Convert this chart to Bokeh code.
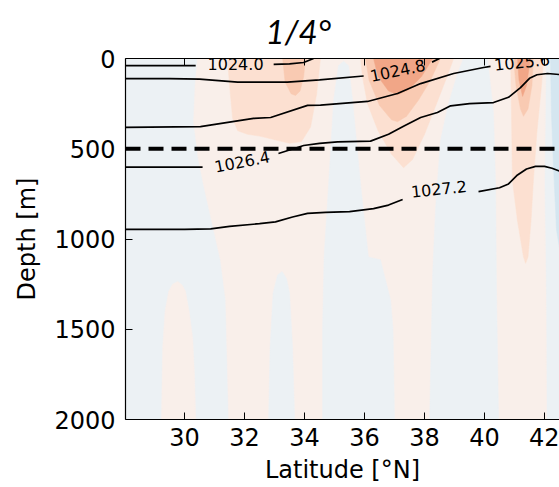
from bokeh.plotting import figure
from bokeh.models import Range1d, Span, FixedTicker, LinearAxis, ColumnDataSource
from bokeh.embed import file_html
from bokeh.resources import INLINE
from bokeh.core.properties import value

# ---------------- data ----------------
lat_ticks = [30, 32, 34, 36, 38, 40, 42]
depth_ticks = [0, 500, 1000, 1500, 2000]
ref_depth = 500  # dashed reference depth

# filled field: regions per colour level (latitude [deg N], depth [m])
red1_lat = [
    [30.43, 30.35, 30.3, 30.45, 30.63, 30.97, 31.2, 31.37, 31.47, 42.07, 42.05, 42.0, 42.05],
    [29.23, 29.27, 29.35, 29.47, 29.6, 29.77, 29.92, 30.03, 30.15, 30.27, 30.33, 30.37],
]
red1_depth = [
    [0, 150, 350, 550, 700, 950, 1120, 1340, 2000, 2000, 1300, 700, 0],
    [2000, 1600, 1400, 1290, 1250, 1235, 1255, 1290, 1400, 1550, 1750, 2000],
]
blue1_lat = [
    [32.8, 32.85, 32.95, 33.1, 33.25, 33.4, 33.5, 33.6, 33.67],
    [35.3, 35.13, 34.97, 34.8, 34.65, 34.6, 34.6, 37.0, 36.95, 36.87, 36.53, 36.13, 35.87, 35.6, 35.47],
    [39.3, 39.1, 38.8, 38.53, 38.37, 38.27, 38.17, 40.47, 40.4, 40.37, 40.3, 40.1],
]
blue1_depth = [
    [2000, 1600, 1300, 1200, 1180, 1220, 1300, 1600, 2000],
    [15, 40, 230, 700, 1100, 1500, 2000, 2000, 1500, 1340, 1115, 1100, 700, 230, 40],
    [0, 83, 250, 455, 825, 1190, 2000, 2000, 1285, 700, 300, 0],
]
red2_lat = [
    [31.43, 31.5, 31.6, 31.77, 32.1, 32.5, 33.0, 33.5, 33.9, 34.2, 34.4, 34.53],
    [35.87, 35.93, 36.1, 36.45, 36.9, 37.3, 37.6, 38.0, 38.4, 38.75, 38.97],
    [40.87, 40.9, 40.93, 41.1, 41.3, 41.37, 41.45, 41.55, 41.63, 41.75, 41.9, 41.97],
]
red2_depth = [
    [0, 150, 330, 400, 420, 430, 450, 470, 460, 380, 200, 0],
    [0, 100, 250, 400, 530, 605, 560, 420, 250, 100, 0],
    [0, 300, 675, 900, 1100, 1135, 1100, 900, 675, 400, 150, 0],
]
red3_lat = [
    [33.27, 33.35, 33.55, 33.7, 33.85, 33.97, 34.03],
    [36.03, 36.15, 36.5, 36.9, 37.1, 37.4, 37.8, 38.2, 38.53],
    [40.97, 41.05, 41.2, 41.3, 41.45, 41.58, 41.63],
]
red3_depth = [
    [0, 130, 195, 205, 180, 100, 0],
    [0, 120, 260, 340, 350, 320, 230, 120, 0],
    [0, 150, 280, 320, 280, 150, 0],
]
red4_lat = [
    [36.3, 36.45, 36.8, 37.1, 37.45, 37.9, 38.27],
    [41.1, 41.15, 41.27, 41.4, 41.53],
]
red4_depth = [
    [0, 100, 180, 200, 175, 100, 0],
    [0, 120, 210, 150, 0],
]
blue2_lat = [[42.2, 42.23, 42.3, 42.4, 42.5, 42.5]]
blue2_depth = [[0, 300, 600, 950, 1050, 0]]

# isopycnal (density contour) lines, split where the inline labels sit
c1024_0_lat = [[28.0, 30.37], [32.97, 33.5, 33.97, 34.3]]
c1024_0_depth = [[39, 39], [33, 30, 22, 0]]
c1024_8_lat = [[28.0, 29.5, 30.5, 31.77, 33.43, 34.5, 35.97], [38.25, 38.5]]
c1024_8_depth = [[111, 111, 114, 131, 131, 118, 97], [20, 0]]
c1025_6_lat = [[28.0, 30.53, 32.3, 32.87, 34.1, 34.53, 36.1, 37.1, 37.87, 38.97, 39.97, 40.2]]
c1025_6_depth = [[382, 377, 332, 327, 260, 258, 238, 194, 139, 83, 50, 44]]
c1026_4_lat = [[28.0, 30.6],
               [33.13, 33.97, 34.5, 35.1, 36.2, 36.8, 37.3, 37.87, 38.43, 38.87, 39.5, 40.3,
                40.8, 41.2, 41.5, 41.75, 42.1, 42.5]]
c1026_4_depth = [[602, 602],
                 [526, 482, 470, 462, 458, 420, 375, 327, 299, 262, 250, 244,
                  215, 161, 110, 90, 83, 89]]
c1027_2_lat = [[28.0, 30.0, 30.87, 31.5, 32.5, 33.03, 33.6, 34.1, 34.7, 35.5, 36.3, 36.8, 37.27],
               [39.8, 40.5, 40.8, 41.1, 41.4, 41.7, 42.0, 42.25, 42.5]]
c1027_2_depth = [[947, 947, 944, 930, 915, 905, 878, 858, 852, 848, 832, 812, 781],
                 [738, 716, 695, 645, 612, 598, 598, 608, 624]]

label_text = ["1024.0", "1024.8", "1025.6", "1026.4", "1027.2"]
label_lat = [31.7, 37.1, 41.25, 31.92, 38.48]
label_depth = [33, 66, 19, 571, 722]
label_angle = [0, 12, 6, 11, 6]

# ---------------- colours ----------------
C_BLUE2 = "#d5e6f0"
C_BLUE1 = "#ecf1f4"
C_RED1 = "#f9efea"
C_RED2 = "#fce0d1"
C_RED3 = "#f9cab2"
C_RED4 = "#f1a687"

FONT = "DejaVu Sans"

p = figure(width=559, height=487, output_backend="svg", toolbar_location=None,
           x_range=Range1d(28.03, 42.5), y_range=Range1d(2000, 0),
           min_border_left=125, min_border_right=0, min_border_top=58, min_border_bottom=68)
p.background_fill_color = C_BLUE1
p.border_fill_color = "white"
p.outline_line_color = None
p.grid.visible = False

for xs, ys, col in [(red1_lat, red1_depth, C_RED1), (blue1_lat, blue1_depth, C_BLUE1),
                    (red2_lat, red2_depth, C_RED2), (red3_lat, red3_depth, C_RED3),
                    (red4_lat, red4_depth, C_RED4), (blue2_lat, blue2_depth, C_BLUE2)]:
    p.patches(xs=xs, ys=ys, fill_color=col, line_color=col, line_width=0.5)

all_lat = c1024_0_lat + c1024_8_lat + c1025_6_lat + c1026_4_lat + c1027_2_lat
all_depth = c1024_0_depth + c1024_8_depth + c1025_6_depth + c1026_4_depth + c1027_2_depth
p.multi_line(xs=all_lat, ys=all_depth, line_color="black", line_width=1.7)

src = ColumnDataSource(dict(x=label_lat, y=label_depth, t=label_text, a=label_angle))
p.text(x="x", y="y", text="t", angle="a", angle_units="deg", source=src,
       text_font=value(FONT), text_font_size="16px", text_align="center",
       text_baseline="middle", text_color="black")

p.add_layout(Span(location=ref_depth, dimension="width", line_color="black",
                  line_width=4, line_dash="15 8"))

# axes
xa = p.xaxis[0]
ya = p.yaxis[0]
for ax, ticks in [(xa, lat_ticks), (ya, depth_ticks)]:
    ax.ticker = FixedTicker(ticks=ticks)
    ax.major_tick_in = 7
    ax.major_tick_out = 0
    ax.minor_tick_in = 0
    ax.minor_tick_out = 0
    ax.axis_line_color = "black"
    ax.axis_line_width = 1.2
    ax.major_tick_line_color = "black"
    ax.major_label_text_font = FONT
    ax.major_label_text_font_size = "24px"
    ax.major_label_text_color = "black"
    ax.axis_label_text_font = FONT
    ax.axis_label_text_font_size = "24px"
    ax.axis_label_text_font_style = "normal"
    ax.axis_label_text_color = "black"
xa.axis_label = "Latitude [°N]"
ya.axis_label = "Depth [m]"
xa.major_label_standoff = 8
xa.axis_label_standoff = 7
ya.major_label_standoff = 10
ya.axis_label_standoff = 10

top = LinearAxis(ticker=FixedTicker(ticks=lat_ticks), major_tick_in=7, major_tick_out=0,
                 minor_tick_in=0, minor_tick_out=0, axis_line_color="black",
                 axis_line_width=1.2, major_label_text_font_size="1px",
                 major_label_text_color=None, major_label_standoff=0)
p.add_layout(top, "above")

p.title.text = "1/4°"
p.title.text_font = "Lato"
p.title.text_font_style = "italic"
p.title.text_font_size = "33px"
p.title.text_color = "black"
p.title.align = "left"
p.title.offset = 140
p.title.standoff = 16

open("out.html", "w").write(file_html(p, INLINE))
